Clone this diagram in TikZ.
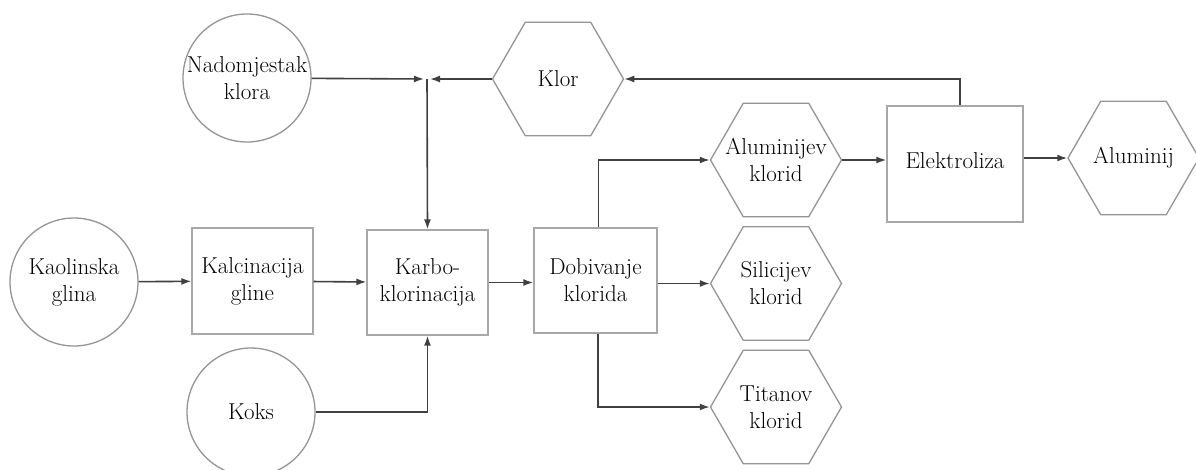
\documentclass[tikz,border=0pt]{standalone}
\usetikzlibrary{shapes.geometric,arrows.meta}
\definecolor{shapegray}{HTML}{959595}
\definecolor{boxgray}{HTML}{A8A8A8}
\definecolor{linegray}{HTML}{404040}
\tikzset{
  base/.style={font=\rmfamily\fontsize{23}{27}\selectfont, align=center, text=black},
  rawcirc/.style={base, circle, draw=shapegray, line width=1.3pt, inner sep=-10pt, minimum size=128pt},
  procbox/.style={base, rectangle, draw=boxgray, line width=1.3pt, inner sep=0pt},
  hexa/.style={base, regular polygon, regular polygon sides=6, draw=shapegray, line width=1.3pt, inner sep=-20pt, minimum size=131pt},
  flow/.style={draw=linegray, line width=1.6pt, -{Latex[length=10pt,width=7pt]}}
}
\begin{document}
\begin{tikzpicture}[x=1pt,y=-1pt]
\useasboundingbox (0,0) rectangle (1196,469);
\clip (0,0) rectangle (1196,469);
\fill[white] (0,0) rectangle (1196,469);
% raw materials
\node[rawcirc] (nad) at (247,78) {Nadomjestak\\klora};
\node[rawcirc] (kao) at (74,282) {Kaolinska\\glina};
\node[rawcirc] (koks) at (251,412) {Koks};
% process boxes
\node[procbox, minimum width=121pt, minimum height=106pt] (kal) at (252.5,281) {Kalcinacija\\gline};
\node[procbox, minimum width=121pt, minimum height=105pt] (karbo) at (427.5,282.5) {Karbo-\\klorinacija};
\node[procbox, minimum width=123pt, minimum height=105pt] (dob) at (595.5,280.5) {Dobivanje\\klorida};
\node[procbox, minimum width=136pt, minimum height=116pt] (elek) at (955,164) {\raisebox{6pt}{Elektroliza}};
% products
\node[hexa] (klor) at (558,79) {Klor};
\node[hexa] (alcl) at (776,160) {Aluminijev\\klorid};
\node[hexa] (sicl) at (776,283.5) {Silicijev\\klorid};
\node[hexa] (ticl) at (776,407) {Titanov\\klorid};
\node[hexa] (alu) at (1133.5,158) {Aluminij};
% junction above Karbo-klorinacija
\coordinate (jl) at (424,79);
\coordinate (jr) at (430,79);
\coordinate (j) at (427,79);
% connectors
\path[flow] (nad) -- (jl);
\path[flow] (klor) -- (jr);
\path[flow] (j) -- (karbo.north);
\path[flow] (kao) -- (kal);
\path[flow] (kal) -- (karbo);
\path[flow] (karbo) -- (karbo.east -| dob.west);
\path[flow] (koks) -| (karbo.south);
\path[flow] ([xshift=3pt]dob.north) |- (alcl.west);
\path[flow] (dob.east |- sicl.west) -- (sicl.west);
\path[flow] ([xshift=2.5pt]dob.south) |- (ticl.west);
\path[flow] (alcl.east) -- (alcl.east -| elek.west);
\path[flow] (elek.east |- alu.west) -- (alu.west);
\path[flow] ([xshift=5pt]elek.north) |- (klor.east);
\end{tikzpicture}
\end{document}
